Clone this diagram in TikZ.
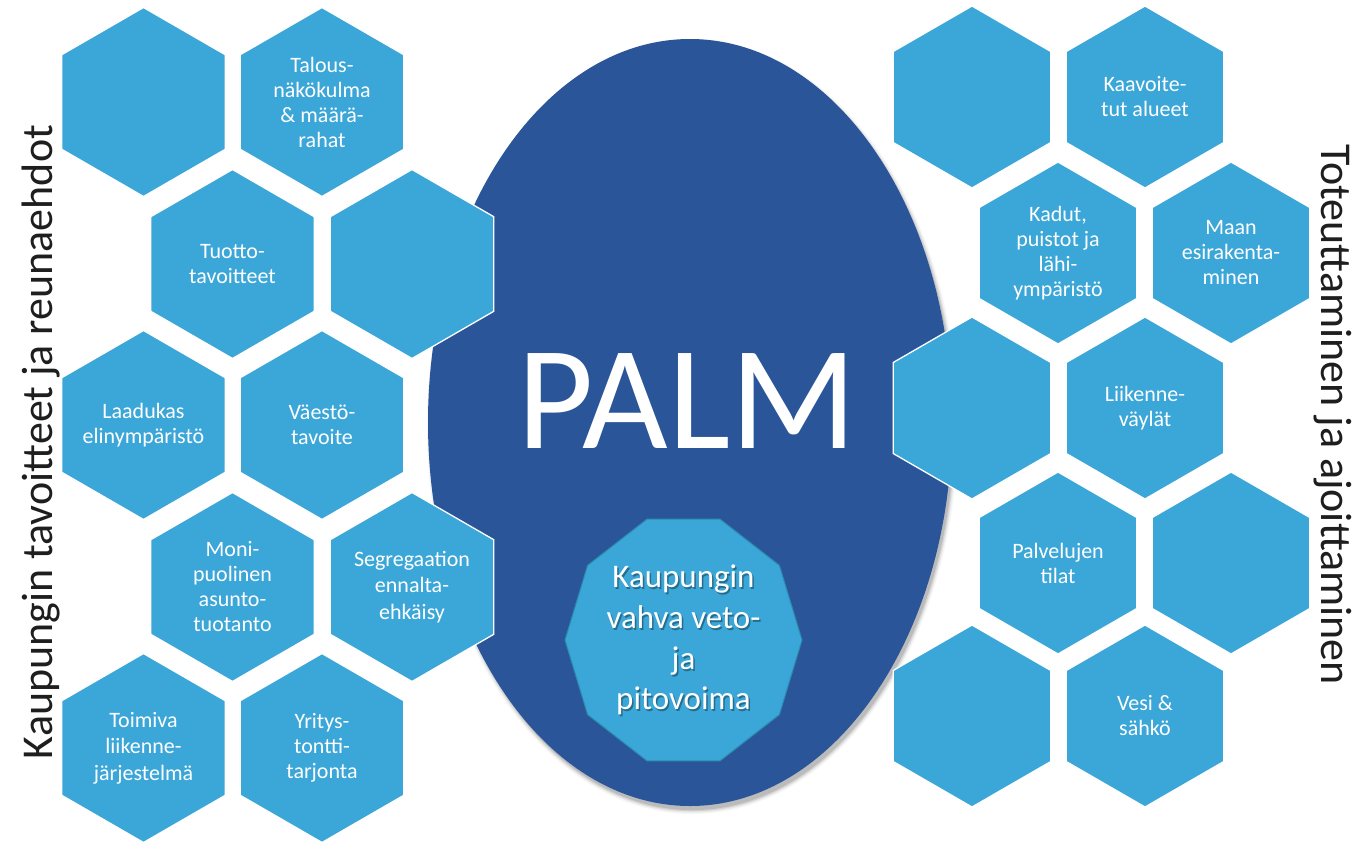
\documentclass[tikz,border=0pt]{standalone}
\usepackage{fontspec}
\setmainfont{Carlito}
\definecolor{palmblue}{HTML}{2A5699}
\definecolor{hexblue}{HTML}{3BA6D8}
\definecolor{decaedge}{HTML}{2C8CAE}
\definecolor{titlegray}{HTML}{1E1E1E}
\tikzset{
  hexshape/.style={fill=hexblue, draw=white, line width=1.3pt},
  hextext/.style={text=white, align=center, inner sep=0pt, font=\fontsize{22}{25}\selectfont},
  widetext/.style={hextext, font=\fontsize{22}{26.5}\selectfont},
  sidetitle/.style={text=titlegray, inner sep=0pt, font=\fontsize{44}{50}\selectfont},
  decatext/.style={align=center, inner sep=0pt, font=\fontsize{33}{40.7}\selectfont}
}
\newcommand{\hexcell}[6][hextext]{%
  \path[hexshape] (#3,#4) +(30:#2) -- +(90:#2) -- +(150:#2) -- +(210:#2) -- +(270:#2) -- +(330:#2) -- cycle;
  \node[#1] (#5) at (#3,#4) {#6};
}
\begin{document}
\begin{tikzpicture}[x=1pt, y=-1pt]
\useasboundingbox (0,0) rectangle (1355,841);
\clip (0,0) rectangle (1355,841);
\fill[white] (0,0) rectangle (1355,841);

% shadow of ellipse
\foreach \d/\o in {4.5/0.04,3/0.06,1.8/0.08,0.6/0.11}{
  \fill[black, opacity=\o] (692.5,427) ellipse [x radius=261+\d, y radius=382.5+\d];
}
% central ellipse
\fill[palmblue] (690,422.5) ellipse [x radius=262, y radius=383.5];
\node[text=white, inner sep=0pt, anchor=base, font=\fontsize{148}{150}\selectfont] (palm) at (687,448) {PALM};

% decagon
\path[fill=hexblue, draw=decaedge, line width=1pt] (683.5,640)
  +(0:118.5 and 127) -- +(36:118.5 and 127) -- +(72:118.5 and 127) -- +(108:118.5 and 127)
  -- +(144:118.5 and 127) -- +(180:118.5 and 127) -- +(216:118.5 and 127) -- +(252:118.5 and 127)
  -- +(288:118.5 and 127) -- +(324:118.5 and 127) -- cycle;
\node[decatext, text=black, opacity=0.35] (decashadow) at (685,642) {Kaupungin\\vahva veto-\\ja\\pitovoima};
\node[decatext, text=white] (decalabel) at (683.5,640) {Kaupungin\\vahva veto-\\ja\\pitovoima};

% left honeycomb
\hexcell{94.5}{143.5}{102}{l11}{}
\hexcell{94.5}{322}{102}{l12}{Talous-\\näkökulma\\\& määrä-\\rahat}
\hexcell{94.5}{232.5}{264}{l21}{Tuotto-\\tavoitteet}
\hexcell{94.5}{412}{264}{l22}{}
\hexcell{94.5}{143.5}{425}{l31}{Laadukas\\elinympäristö}
\hexcell{94.5}{322}{425}{l32}{Väestö-\\tavoite}
\hexcell{94.5}{232.5}{587}{l41}{Moni-\\puolinen\\asunto-\\tuotanto}
\hexcell[widetext]{94.5}{412}{587}{l42}{Segregaation\\ennalta-\\ehkäisy}
\hexcell[widetext]{94.5}{143.5}{748}{l51}{Toimiva\\liikenne-\\järjestelmä}
\hexcell{94.5}{322}{748}{l52}{Yritys-\\tontti-\\tarjonta}

% right honeycomb
\hexcell{91}{972}{97}{r11}{}
\hexcell{91}{1145}{97}{r12}{Kaavoite-\\tut alueet}
\hexcell{91}{1058}{253}{r21}{Kadut,\\puistot ja\\lähi-\\ympäristö}
\hexcell{91}{1231}{253}{r22}{Maan\\esirakenta-\\minen}
\hexcell{91}{972}{408}{r31}{}
\hexcell{91}{1145}{408}{r32}{Liikenne-\\väylät}
\hexcell{91}{1058}{563}{r41}{Palvelujen\\tilat}
\hexcell{91}{1231}{563}{r42}{}
\hexcell{91}{972}{716}{r51}{}
\hexcell{91}{1145}{716}{r52}{Vesi \&\\sähkö}

% side titles
\node[sidetitle, rotate=90, anchor=base] (lefttitle) at (52,442) {Kaupungin tavoitteet ja reunaehdot};
\node[sidetitle, rotate=-90, anchor=base] (righttitle) at (1321,415) {Toteuttaminen ja ajoittaminen};
\end{tikzpicture}
\end{document}
